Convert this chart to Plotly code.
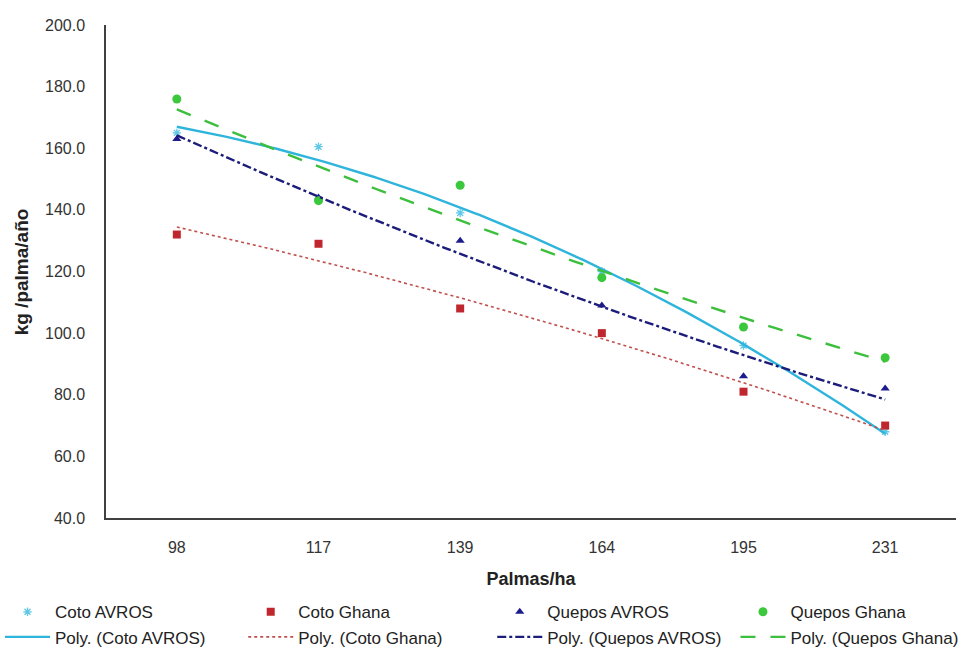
import numpy as np
import plotly.graph_objects as go

# Planting density categories (palms per hectare)
categories = ["98", "117", "139", "164", "195", "231"]

# Yield per palm per year (kg) for each material and site
coto_avros = [165.0, 160.5, 139.0, 120.0, 96.0, 68.0]
coto_ghana = [132.0, 129.0, 108.0, 100.0, 81.0, 70.0]
quepos_avros = [163.0, 144.0, 130.0, 109.0, 86.0, 82.0]
quepos_ghana = [176.0, 143.0, 148.0, 118.0, 102.0, 92.0]

y_ticks = [40, 60, 80, 100, 120, 140, 160, 180, 200]

idx = np.arange(1, len(categories) + 1)
dense = np.linspace(1, len(categories), 200)

series = [
    ("Coto AVROS", coto_avros,
     dict(symbol="asterisk-open", size=7, color="#5ec8e6", line=dict(width=1.3, color="#5ec8e6")),
     dict(color="#2fb4dc", width=2.4, dash="solid")),
    ("Coto Ghana", coto_ghana,
     dict(symbol="square", size=8, color="#c0262e"),
     dict(color="#c0504d", width=1.6, dash="dot")),
    ("Quepos AVROS", quepos_avros,
     dict(symbol="triangle-up", size=8, color="#1c1c8c"),
     dict(color="#1c1c7a", width=2.4, dash="dashdot")),
    ("Quepos Ghana", quepos_ghana,
     dict(symbol="circle", size=9, color="#3cc83c"),
     dict(color="#3cbf3c", width=2.4, dash="longdash")),
]

# One legend column per series: the marker entry above its trendline entry
legend_ids = ["legend", "legend2", "legend3", "legend4"]
legend_x = [0.0, 0.251, 0.508, 0.759]

fig = go.Figure()

# Data points
for (name, vals, mk, _), lg in zip(series, legend_ids):
    fig.add_trace(go.Scatter(
        x=idx, y=vals, mode="markers", name=name, marker=mk, legend=lg,
    ))

# Second-order polynomial trendlines
for (name, vals, _, ln), lg in zip(series, legend_ids):
    coef = np.polyfit(idx, vals, 2)
    fig.add_trace(go.Scatter(
        x=dense, y=np.polyval(coef, dense), mode="lines",
        name=f"Poly. ({name})", line=ln, legend=lg,
    ))

legend_style = dict(
    orientation="v",
    xref="container", yref="container",
    xanchor="left", y=0.09, yanchor="top",
    font=dict(size=17, color="#222222"),
    itemwidth=45, tracegroupgap=0,
    bgcolor="rgba(0,0,0,0)",
)

fig.update_layout(
    width=969, height=653,
    margin=dict(l=106, r=13, t=25, b=135, autoexpand=False),
    paper_bgcolor="white", plot_bgcolor="white",
    font=dict(family="Liberation Sans, Arial, sans-serif", size=16, color="#333333"),
    showlegend=True,
    **{lg: dict(legend_style, x=lx) for lg, lx in zip(legend_ids, legend_x)},
)

fig.update_xaxes(
    range=[0.5, len(categories) + 0.5],
    tickmode="array", tickvals=idx, ticktext=categories,
    showgrid=False, zeroline=False,
    showline=True, linecolor="#404040", linewidth=1.5,
    ticks="", ticklabelstandoff=14, tickfont=dict(size=16, color="#333333"),
    title=dict(text="<b>Palmas/ha</b>", font=dict(size=18, color="#222222"), standoff=17),
)

fig.update_yaxes(
    range=[40, 200],
    tickmode="array", tickvals=y_ticks, ticktext=[f"{v:.1f}" for v in y_ticks],
    showgrid=False, zeroline=False,
    showline=True, linecolor="#404040", linewidth=1.5,
    ticks="", ticklabelstandoff=16, tickfont=dict(size=16, color="#333333"),
)

# Vertical axis title
fig.add_annotation(
    text="<b>kg /palma/año</b>", textangle=-90,
    xref="paper", yref="paper", x=-0.099, y=0.5,
    xanchor="center", yanchor="middle", showarrow=False,
    font=dict(size=19, color="#222222"),
)

fig.write_html("out.html")
